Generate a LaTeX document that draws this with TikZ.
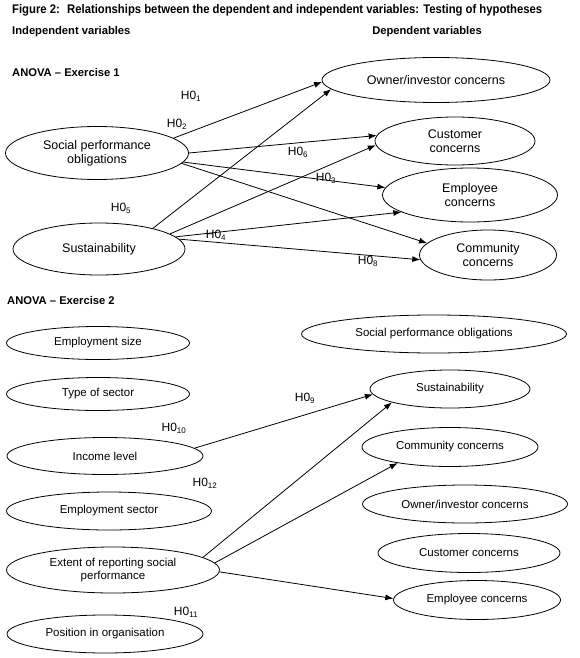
\documentclass[tikz,border=0pt]{standalone}
\usepackage{fontspec}
\setmainfont{Liberation Sans}
\usetikzlibrary{shapes.geometric,arrows.meta}
\begin{document}
\begin{tikzpicture}[x=1pt,y=-1pt,
  ell/.style={ellipse,draw,inner sep=0pt,align=center,line width=0.8pt},
  ea/.style={ell,font=\fontsize{12.5}{14}\selectfont},
  eb/.style={ell,font=\fontsize{11.5}{13}\selectfont},
  hd/.style={anchor=west,inner sep=0pt,font=\bfseries\fontsize{11.2}{13}\selectfont},
  lab/.style={inner sep=0pt,font=\fontsize{12}{14}\selectfont},
  arr/.style={-{Latex[length=8pt,width=6pt]},line width=0.8pt}]
\useasboundingbox (0,0) rectangle (580,658);
% headings
\node[hd] (title) at (12,10) {\resizebox{530pt}{\height}{\bfseries\fontsize{12.5}{14}\selectfont Figure 2:~ Relationships between the dependent and independent variables: Testing of hypotheses}};
\node[hd] (indep) at (12,32) {Independent variables};
\node[hd,anchor=east] (dep) at (482,32) {Dependent variables};
\node[hd] (ex1) at (12,72) {ANOVA -- Exercise 1};
\node[hd] (ex2) at (7,300) {ANOVA -- Exercise 2};
% exercise 1
\node[ea,minimum width=228pt,minimum height=45pt] (own) at (436,80) {Owner/investor concerns};
\node[ea,minimum width=160pt,minimum height=48pt] (cus) at (455,141) {Customer\\concerns};
\node[ea,minimum width=175pt,minimum height=54pt] (emp) at (470,195) {Employee\\concerns};
\node[ea,minimum width=137pt,minimum height=50pt] (com) at (488,255) {Community\\concerns};
\node[ea,minimum width=183pt,minimum height=53pt] (spo) at (97,153) {Social performance\\obligations};
\node[ea,minimum width=172pt,minimum height=52pt] (sus) at (99,249) {Sustainability};
\draw[arr] (spo.11) -- (own.181);
\draw[arr] (spo.0) -- (cus.176);
\draw[arr] (spo.-6) -- (emp.175);
\draw[arr] (spo.-7) -- (com.169);
\draw[arr] (sus.21) -- (own.185);
\draw[arr] (sus.12) -- (cus.183);
\draw[arr] (sus.9) -- (emp.194);
\draw[arr] (sus.7) -- (com.184);
\node[lab] (h1) at (191,96) {H0\textsubscript{1}};
\node[lab] (h2) at (177,124) {H0\textsubscript{2}};
\node[lab] (h6) at (298,152) {H0\textsubscript{6}};
\node[lab] (h3) at (326,178) {H0\textsubscript{3}};
\node[lab] (h5) at (121,208) {H0\textsubscript{5}};
\node[lab] (h4) at (216,235) {H0\textsubscript{4}};
\node[lab] (h8) at (368,261) {H0\textsubscript{8}};
% exercise 2 left
\node[eb,minimum width=183pt,minimum height=33pt] (esz) at (98,343) {Employment size};
\node[eb,minimum width=183pt,minimum height=33pt] (tos) at (98,394) {Type of sector};
\node[eb,minimum width=196pt,minimum height=37pt] (inc) at (105,456) {Income level};
\node[eb,minimum width=205pt,minimum height=38pt] (esc) at (109,511) {Employment sector};
\node[eb,minimum width=213pt,minimum height=46pt] (ext) at (113,570) {Extent of reporting social\\performance};
\node[eb,minimum width=196pt,minimum height=38pt] (pos) at (105,634) {Position in organisation};
% exercise 2 right
\node[eb,minimum width=265pt,minimum height=38pt] (rspo) at (434,334) {Social performance obligations};
\node[eb,minimum width=160pt,minimum height=38pt] (rsus) at (450,389) {Sustainability};
\node[eb,minimum width=176pt,minimum height=39pt] (rcom) at (450,447) {Community concerns};
\node[eb,minimum width=205pt,minimum height=38pt] (rown) at (465,504) {Owner/investor concerns};
\node[eb,minimum width=182pt,minimum height=39pt] (rcus) at (469,553) {Customer concerns};
\node[eb,minimum width=167pt,minimum height=39pt] (remp) at (477,600) {Employee concerns};
\draw[arr] (inc.5) -- (rsus.184);
\draw[arr] (ext.8) -- (rsus.193);
\draw[arr] (ext.4) -- (rcom.197);
\draw[arr] (ext.-1) -- (remp.179);
\node[lab] (h9) at (305,398) {H0\textsubscript{9}};
\node[lab] (h10) at (174,428) {H0\textsubscript{10}};
\node[lab] (h12) at (205,483) {H0\textsubscript{12}};
\node[lab] (h11) at (186,612) {H0\textsubscript{11}};
\end{tikzpicture}
\end{document}
